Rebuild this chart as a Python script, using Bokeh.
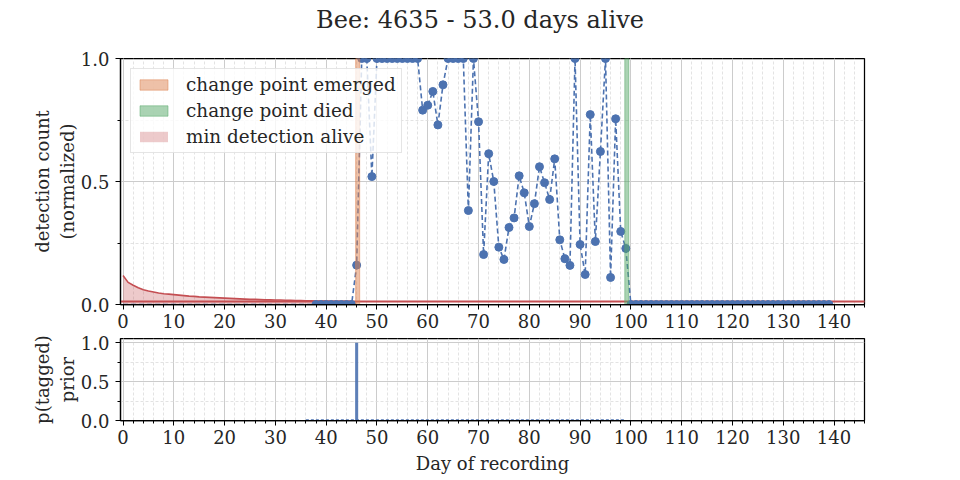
import numpy as np
from bokeh.plotting import figure
from bokeh.layouts import column
from bokeh.models import (Range1d, SingleIntervalTicker, NumeralTickFormatter, Div,
                          ColumnDataSource, CDSView, BooleanFilter, Legend, LegendItem)
from bokeh.embed import file_html
from bokeh.resources import INLINE

# ---------------- data ----------------
title_text = "Bee: 4635 - 53.0 days alive"
days = list(range(140))
detections = ([0.0] * 46 +
              [0.16, 1.0, 1.0, 0.52] +
              [1.0] * 9 +
              [0.79, 0.81, 0.866, 0.73, 0.893] +
              [1.0] * 4 +
              [0.382, 1.0, 0.743, 0.203, 0.613, 0.5, 0.233, 0.183, 0.313, 0.352,
               0.523, 0.454, 0.317, 0.41, 0.56, 0.495, 0.427, 0.592, 0.263, 0.186,
               0.159, 1.0, 0.244, 0.122, 0.772, 0.256, 0.622, 1.0, 0.11, 0.755,
               0.297, 0.228] +
              [0.0] * 40)
first_marker_day = 38

curve_days = list(range(46))
min_detection_curve = [0.118, 0.09, 0.078, 0.068, 0.060, 0.055, 0.051, 0.047, 0.044, 0.042,
                       0.040, 0.038, 0.036, 0.034, 0.033, 0.031, 0.030, 0.029, 0.028, 0.027,
                       0.026, 0.025, 0.024, 0.023, 0.022, 0.021, 0.021, 0.020, 0.019, 0.019,
                       0.018, 0.018, 0.017, 0.017, 0.016, 0.016, 0.015, 0.015, 0.014, 0.014,
                       0.014, 0.013, 0.013, 0.013, 0.013, 0.013]
min_detection_alive = 0.0125

change_point_emerged = 46
change_point_died = 99

prior_days = list(range(36, 100))
prior_values = [0.0] * 10 + [1.0] + [0.0] * 53

legend_labels = ["change point emerged", "change point died", "min detection alive"]
x_label = "Day of recording"
y_label_top = "detection count\n(normalized)"
y_label_bottom = "p(tagged)\nprior"

# ---------------- style ----------------
BLUE = "#4C72B0"
ORANGE = "#DD8452"
GREEN = "#55A868"
RED = "#C44E52"
TXT = "#262626"
FONT = "DejaVu Serif"

def style(p, yinterval):
    p.outline_line_color = "black"
    p.outline_line_width = 1.25
    p.background_fill_color = "white"
    p.border_fill_color = "white"
    p.xaxis.ticker = SingleIntervalTicker(interval=10, num_minor_ticks=5)
    p.yaxis.ticker = SingleIntervalTicker(interval=yinterval, num_minor_ticks=2)
    p.yaxis.formatter = NumeralTickFormatter(format="0.0")
    for ax in p.xaxis + p.yaxis:
        ax.axis_line_color = "black"
        ax.axis_line_width = 1.25
        ax.major_tick_line_color = "black"
        ax.minor_tick_line_color = "black"
        ax.major_tick_out = 5
        ax.major_tick_in = 0
        ax.minor_tick_out = 3
        ax.minor_tick_in = 0
        ax.major_label_text_font = FONT
        ax.major_label_text_font_size = "18px"
        ax.major_label_text_color = TXT
        ax.axis_label_text_font = FONT
        ax.axis_label_text_font_size = "18px"
        ax.axis_label_text_font_style = "normal"
        ax.axis_label_text_color = TXT
        ax.major_label_standoff = 4
        ax.axis_label_standoff = 8
    p.yaxis.major_label_standoff = 6
    p.yaxis.axis_label_standoff = 0
    for g in p.grid:
        g.grid_line_color = "#cccccc"
        g.grid_line_width = 1
        g.minor_grid_line_color = "#dcdcdc"
        g.minor_grid_line_dash = "3 2"
        g.minor_grid_line_width = 0.8

# ---------------- title ----------------
title = Div(text=title_text, width=960, height=40, margin=(0, 0, 0, 0),
            styles={"text-align": "center", "font-family": FONT, "font-size": "24px",
                    "line-height": "40px", "color": TXT, "width": "960px"})

# ---------------- top plot ----------------
p1 = figure(frame_width=744, frame_height=246, output_backend="svg", toolbar_location=None,
            x_range=Range1d(-0.5, 146), y_range=Range1d(0, 1),
            min_border_left=120, min_border_right=80, min_border_top=18, min_border_bottom=30)
style(p1, 0.5)
p1.yaxis.axis_label = y_label_top

r_fill = p1.varea(x=curve_days, y1=[0] * len(curve_days), y2=min_detection_curve,
                  fill_color=RED, fill_alpha=0.3)
p1.line(curve_days, min_detection_curve, line_color=RED, line_width=1.6)
p1.line([days[0] - 5, days[-1] + 10], [min_detection_alive] * 2, line_color=RED, line_width=2)

src = ColumnDataSource(dict(x=days, y=detections))
p1.line("x", "y", source=src, line_color=BLUE, line_width=1.6, line_dash="5 3")
view = CDSView(filter=BooleanFilter([d >= first_marker_day for d in days]))
p1.scatter("x", "y", source=src, view=view, size=8, fill_color=BLUE, line_color=BLUE)

r_em = p1.quad(left=[change_point_emerged - 0.2], right=[change_point_emerged + 0.6],
               bottom=[0], top=[1], fill_color=ORANGE, fill_alpha=0.5,
               line_color=ORANGE, line_alpha=0.5, line_width=1)
r_died = p1.quad(left=[change_point_died - 0.2], right=[change_point_died + 0.6],
                 bottom=[0], top=[1], fill_color=GREEN, fill_alpha=0.5,
                 line_color=GREEN, line_alpha=0.5, line_width=1)

legend = Legend(items=[LegendItem(label=legend_labels[0], renderers=[r_em]),
                       LegendItem(label=legend_labels[1], renderers=[r_died]),
                       LegendItem(label=legend_labels[2], renderers=[r_fill])],
                location="top_left", margin=10, padding=5, spacing=5,
                glyph_width=35, glyph_height=13, label_height=18, label_standoff=15,
                label_text_font=FONT, label_text_font_size="18.4px", label_text_color=TXT,
                border_line_color="#cccccc", border_line_width=1,
                background_fill_color="white", background_fill_alpha=0.8)
p1.add_layout(legend)

# ---------------- bottom plot ----------------
p2 = figure(frame_width=744, frame_height=82, output_backend="svg", toolbar_location=None,
            x_range=p1.x_range, y_range=Range1d(0, 1.055),
            min_border_left=120, min_border_right=80, min_border_top=4, min_border_bottom=55)
style(p2, 0.5)
p2.yaxis.axis_label = y_label_bottom
p2.xaxis.axis_label = x_label
p2.xaxis.axis_label_standoff = 6
p2.line(prior_days, [0.0] * len(prior_days), line_color=BLUE, line_width=2.5, line_dash="3 2")
p2.vbar(x=prior_days, top=prior_values, bottom=0, width=0.6,
        fill_color=BLUE, fill_alpha=0.9, line_color=None)

layout = column(title, p1, p2, spacing=0)
open("out.html", "w").write(file_html(layout, INLINE))
